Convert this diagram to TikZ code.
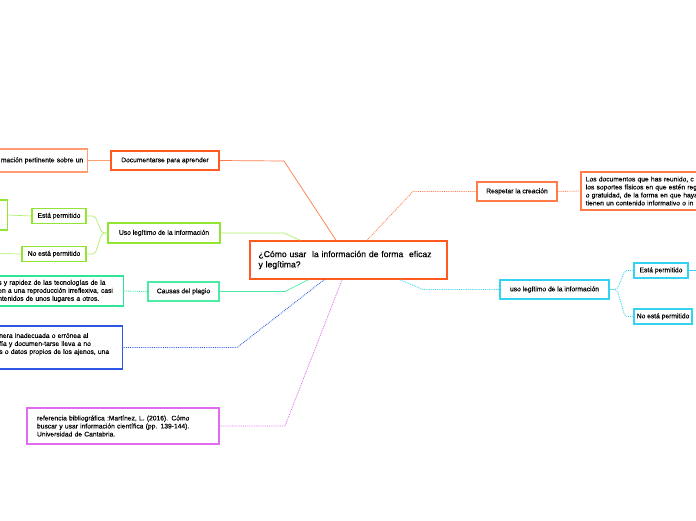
\documentclass[tikz,border=0pt]{standalone}
\usepackage{fontspec}
\setmainfont{Liberation Sans}[FakeBold=0.25]
\newfontfamily\titulo{Liberation Sans}[FakeBold=0.6]
\usetikzlibrary{shadows}

\definecolor{naranja}{HTML}{FF5A1F}
\definecolor{naranjaclaro}{HTML}{FF9C72}
\definecolor{naranjamed}{HTML}{FF7C48}
\definecolor{lima}{HTML}{92E633}
\definecolor{limaclaro}{HTML}{B2F070}
\definecolor{menta}{HTML}{4CECA4}
\definecolor{mentaosc}{HTML}{30E696}
\definecolor{azul}{HTML}{2F57E6}
\definecolor{violeta}{HTML}{E06BF0}
\definecolor{cian}{HTML}{35D2F2}

\begin{document}
\begin{tikzpicture}[
    x=1pt, y=-1pt,
    every node/.style={font=\fontsize{6.7}{8}\selectfont},
    box/.style={draw, line width=1.5pt, fill=white, minimum height=19, inner xsep=3, inner ysep=2,
        align=center, drop shadow={shadow xshift=0.8pt, shadow yshift=-0.8pt, opacity=0.2}},
    hoja/.style={box, inner xsep=5, align=left},
    chico/.style={box, minimum height=15, inner xsep=1},
    linea/.style={line width=0.7pt},
    punteado/.style={line width=0.85pt, densely dotted}
]

\fill[white] (0,0) rectangle (696,520);
\useasboundingbox (0,0) rectangle (696,520);
\clip (0,0) rectangle (696,520);

% nodo central
\node[box, draw=naranja, line width=1.6pt, minimum width=197, minimum height=38, text width=180,
      align=left, font=\titulo\fontsize{8.6}{10.3}\selectfont] (q) at (348.5,260)
    {¿Cómo usar\ \ la información de forma\ \ eficaz\\y legítima?};

% rama izquierda
\node[box, draw=naranja, minimum width=108] (doc) at (165,160.5) {Documentarse para aprender};
\node[hoja, draw=naranjaclaro, anchor=east, minimum height=23, text width=104, align=right, inner xsep=4]
    (pert) at (88,160.5) {mación pertinente sobre un};

\node[box, draw=lima, minimum width=112, minimum height=20] (usoL) at (164,233) {Uso legítimo de la información};
\node[chico, draw=lima, minimum width=54] (permL) at (59,216) {Está permitido};
\node[chico, draw=lima, minimum width=64] (nopermL) at (54,254) {No está permitido};
\node[hoja, draw=lima, anchor=east, minimum width=60, minimum height=30] (hojaA) at (8,215) {};
\coordinate (finL) at (-5,253.5);

\node[box, draw=menta, minimum width=71] (causas) at (183.5,291.5) {Causas del plagio};
\node[hoja, draw=mentaosc, anchor=east, text width=122, inner xsep=3, minimum height=30] (hojaC) at (124,291)
    {s y rapidez de las tecnologías de la\\en a una reproducción irreflexiva, casi\\ntenidos de unos lugares a otros.};

\node[hoja, draw=azul, anchor=east, text width=118, minimum height=43] (hojaB) at (123,347.5)
    {nera inadecuada o errónea al\\fía y documen-tarse lleva a no\\s o datos propios de los ajenos, una\\~};

\node[hoja, draw=violeta, minimum width=192, minimum height=36, text width=172] (ref) at (123,426)
    {referencia bibliográfica :Martínez, L. (2016). Cómo\\buscar y usar información científica (pp. 139-144).\\Universidad de Cantabria.};

% rama derecha
\node[box, draw=naranjamed, minimum width=80] (resp) at (517,191.5) {Respetar la creación};
\node[hoja, draw=naranjamed, anchor=west, text width=140, minimum height=38] (hojaR) at (580,191)
    {Los documentos que has reunido, c\\los soportes físicos en que estén reg\\o gratuidad, de la forma en que haya\\tienen un contenido informativo o in};

\node[box, draw=cian, minimum width=109] (usoR) at (554.5,289.5) {uso legítimo de la información};
\node[chico, draw=cian, minimum width=54] (permR) at (661,270.5) {Está permitido};
\node[chico, draw=cian, minimum width=58] (nopermR) at (663,316.5) {No está permitido};
\coordinate (finR) at (700,270.5);

% conectores
\draw[linea, naranja!80] ([xshift=-12.5pt]q.north) -- (284,161) -- (doc.east);
\draw[linea, naranjaclaro] (doc.west) -- (pert.east);
\draw[punteado, naranjamed] ([xshift=18.5pt]q.north) -- (413,191.5) -- (resp.west);
\draw[punteado, naranjamed] (resp.east) -- (hojaR.west);

\draw[linea, limaclaro] ([xshift=-48.5pt]q.north) -- (284,233) -- (usoL.east);
\draw[linea, limaclaro, rounded corners=2pt] (usoL.west) -- (102,233) -- (95,216) -- (permL.east);
\draw[linea, limaclaro, rounded corners=2pt] (usoL.west) -- (102,233) -- (95,254) -- (nopermL.east);
\draw[linea, limaclaro] (permL.west) -- (hojaA.east);
\draw[linea, limaclaro] (nopermL.west) -- (finL);

\draw[linea, menta] ([xshift=-40.5pt]q.south) -- (285,291.5) -- (causas.east);
\draw[punteado, mentaosc] (causas.west) -- (hojaC.east);
\draw[punteado, azul] ([xshift=-24.5pt]q.south) -- (237,347.5) -- (hojaB.east);
\draw[punteado, violeta] ([xshift=-6.5pt]q.south) -- (285,426) -- (ref.east);

\draw[punteado, cian] ([xshift=51.5pt]q.south) -- (423,289.5) -- (usoR.west);
\draw[punteado, cian, rounded corners=2pt] (usoR.east) -- (617,289.5) -- (625,270.5) -- (permR.west);
\draw[punteado, cian, rounded corners=2pt] (usoR.east) -- (617,289.5) -- (625,316.5) -- (nopermR.west);
\draw[linea, cian] (permR.east) -- (finR);

\end{tikzpicture}
\end{document}
